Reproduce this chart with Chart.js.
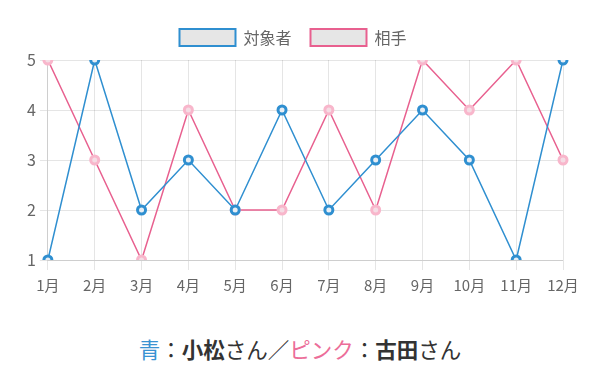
<!DOCTYPE html>
<html>
<head>
<meta charset="utf-8">
<script src="https://cdn.jsdelivr.net/npm/chart.js@4/dist/chart.umd.min.js"></script>
<style>
  body { margin: 0; background: #fff; font-family: "Noto Sans CJK JP", sans-serif; }
  #wrap { width: 600px; height: 376px; position: relative; }
  #caption { position: absolute; top: 333px; left: 0; width: 600px; text-align: center; font-size: 21.5px; color: #333; }
  .ao { color: #3a93d2; }
  .pink { color: #ec6d99; }
  b { font-weight: bold; }
</style>
</head>
<body>
<div id="wrap">
  <canvas id="grafico" width="600" height="300"></canvas>
  <div id="caption"><span class="ao">青</span>：<b>小松</b>さん／<span class="pink">ピンク</span>：<b>古田</b>さん</div>
</div>
<script>
var meses = ['1月', '2月', '3月', '4月', '5月', '6月', '7月', '8月', '9月', '10月', '11月', '12月'];
var taishousha = [1, 5, 2, 3, 2, 4, 2, 3, 4, 3, 1, 5];
var aite = [5, 3, 1, 4, 2, 2, 4, 2, 5, 4, 5, 3];

Chart.defaults.font.family = '"Noto Sans CJK JP", sans-serif';
Chart.defaults.color = '#666';

// espacio extra debajo de la leyenda
var margenLeyenda = {
    id: 'margenLeyenda',
    beforeInit: function (chart) {
        var fitOriginal = chart.legend.fit;
        chart.legend.fit = function () {
            fitOriginal.bind(chart.legend)();
            this.height += 4;
        };
    }
};

var ctx = document.getElementById('grafico').getContext('2d');
var myChart = new Chart(ctx, {
    type: 'line',
    data: {
        labels: meses,
        datasets: [{
            label: '対象者',
            data: taishousha,
            borderColor: '#2f8fd0',
            backgroundColor: '#e6e6e6',
            borderWidth: 1.5,
            pointRadius: 4,
            pointBorderWidth: 3,
            pointBorderColor: '#2f8fd0',
            pointBackgroundColor: '#e8eef4',
            tension: 0
        }, {
            label: '相手',
            data: aite,
            borderColor: '#e8608f',
            backgroundColor: '#e6e6e6',
            borderWidth: 1.5,
            pointRadius: 4,
            pointBorderWidth: 3,
            pointBorderColor: '#f8b6cb',
            pointBackgroundColor: '#f4dce4',
            tension: 0
        }]
    },
    plugins: [margenLeyenda],
    options: {
        responsive: false,
        animation: false,
        layout: { padding: { left: 23, right: 37, top: 10, bottom: 0 } },
        plugins: {
            legend: {
                display: true,
                labels: {
                    boxWidth: 56,
                    boxHeight: 17,
                    padding: 19,
                    font: { size: 16 },
                    generateLabels: function (chart) {
                        return chart.data.datasets.map(function (ds, i) {
                            return {
                                text: ds.label,
                                fillStyle: '#e6e6e6',
                                strokeStyle: ds.borderColor,
                                lineWidth: 2,
                                datasetIndex: i,
                                fontColor: '#666'
                            };
                        });
                    }
                }
            },
            tooltip: { enabled: false }
        },
        scales: {
            x: {
                grid: { color: 'rgba(0,0,0,0.1)', tickLength: 10 },
                ticks: { font: { size: 15 }, padding: 6 }
            },
            y: {
                min: 1,
                max: 5,
                grid: { color: 'rgba(0,0,0,0.1)', tickLength: 8 },
                ticks: { stepSize: 1, font: { size: 16 }, padding: 4 }
            }
        }
    }
});
</script>
</body>
</html>
